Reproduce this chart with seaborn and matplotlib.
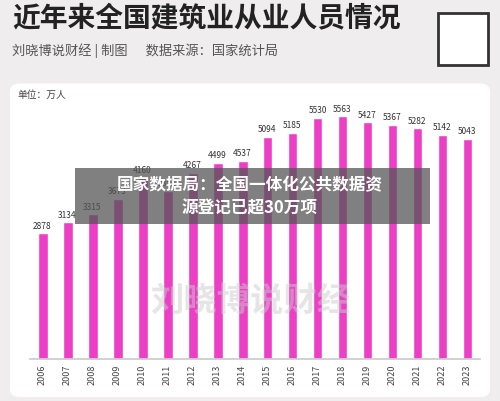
import matplotlib.pyplot as plt
import seaborn as sns
import pandas as pd
from matplotlib.patches import FancyBboxPatch, Rectangle

years = [str(y) for y in range(2006, 2024)]
values = [2878, 3134, 3315, 3673, 4160, 3852, 4267, 4499, 4537, 5094,
          5185, 5530, 5563, 5427, 5367, 5282, 5142, 5043]
title = '近年来全国建筑业从业人员情况'
subtitle = '刘晓博说财经 | 制图      数据来源：国家统计局'
banner = '国家数据局：全国一体化公共数据资\n源登记已超30万项'

sns.set_theme(style='white')
plt.rcParams['font.family'] = ['Noto Sans CJK SC', 'DejaVu Sans']

df = pd.DataFrame({'年份': years, '人数': values})

fig = plt.figure(figsize=(5, 4.02), dpi=100)
fig.patch.set_facecolor('#efeded')

# 白色圆角底板
fig.patches.append(FancyBboxPatch((0.02, 0.01), 0.96, 0.78, boxstyle='round,pad=0,rounding_size=0.02',
                                  transform=fig.transFigure, facecolor='white', edgecolor='none', zorder=-5))

fig.text(0.025, 0.955, title, fontsize=20, fontweight='bold', va='center', color='#222222')
fig.text(0.025, 0.875, subtitle, fontsize=9.5, va='center', color='#555555')
fig.patches.append(Rectangle((0.875, 0.835), 0.1, 0.13, transform=fig.transFigure,
                             facecolor='white', edgecolor='#333333', lw=2))
fig.text(0.035, 0.765, '单位：万人', fontsize=7, va='center', color='#444444')

ax = fig.add_axes([0.06, 0.105, 0.9, 0.64])
ax.set_zorder(2)
sns.barplot(data=df, x='年份', y='人数', color='#ec3fc6', width=0.4, ax=ax, saturation=1)
for i, v in enumerate(values):
    ax.text(i, v + 80, str(v), ha='center', va='bottom', fontsize=6, color='#333333')
ax.set_ylim(0, 5900)
ax.set_yticks([])
ax.set_xlabel('')
ax.set_ylabel('')
ax.tick_params(axis='x', labelrotation=90, labelsize=6.5, colors='#444444', length=0)
for s in ['top', 'right', 'left']:
    ax.spines[s].set_visible(False)
ax.spines['bottom'].set_color('#cccccc')
ax.set_facecolor('none')
ax.patch.set_alpha(0)

# 中间的灰色横幅
fig.patches.append(Rectangle((0.15, 0.44), 0.71, 0.14, transform=fig.transFigure,
                             facecolor='#555555', alpha=0.75, edgecolor='none', zorder=10))
fig.text(0.5, 0.51, banner, ha='center', va='center', fontsize=12, fontweight='bold',
         color='white', linespacing=1.4, zorder=11)

fig.text(0.5, 0.25, '刘晓博说财经', ha='center', va='center', fontsize=24, color='#cccccc',
         fontweight='bold', alpha=0.5, zorder=12)
fig.text(0.97, 0.025, '雪球：刘晓博说财经', ha='right', va='center', fontsize=8, color='white', zorder=12)

plt.savefig('out.png', dpi=100, facecolor=fig.get_facecolor())
